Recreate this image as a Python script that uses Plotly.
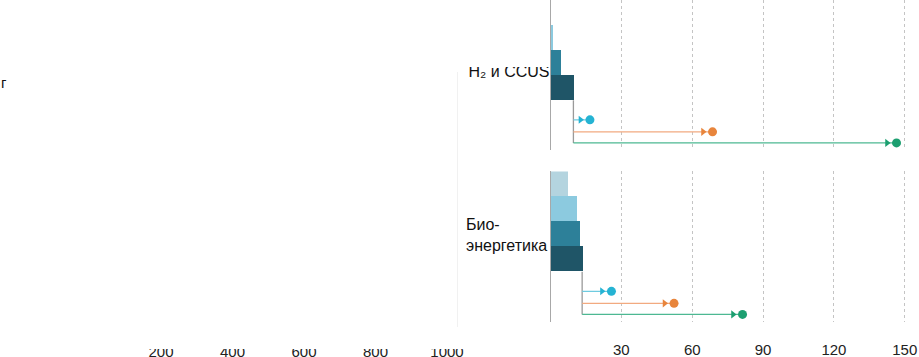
import plotly.graph_objects as go

# ---------------- data ----------------
rows = ["2019", "2020", "2021", "2022"]
h2_bars = [0.0, 1.0, 4.2, 9.7]
bio_bars = [7.0, 11.2, 12.2, 13.4]
scenarios = ["Сценарий A", "Сценарий B", "Сценарий C"]
h2_targets = [16.7, 68.6, 146.5]
bio_targets = [25.8, 52.3, 81.3]
left_ticks = [200, 400, 600, 800, 1000]
right_ticks = [30, 60, 90, 120, 150]
panel_labels = ["Н₂ и CCUS", "Био-<br>энергетика"]

# ---------------- style ----------------
W, H = 919, 357          # reference picture size (layout is expressed in it)
FIG_W, FIG_H = 926, 360  # figure size that renders at the reference scale
SC = FIG_W / W
FONT = "Liberation Sans, Arial, sans-serif"
bar_colors = ["#b4d4df", "#8ccadf", "#2d8099", "#1f5567"]
line_colors = ["#6fcbe0", "#f2aa80", "#4db892"]
mark_colors = ["#25b3d3", "#e8853c", "#1c9f70"]
row_y = [0.5, 1.5, 2.5, 3.5]
arrow_y = [4.78, 5.26, 5.7]

def px_x(p):
    return p / W

def px_y(p):
    return 1 - p / H

R_DOM = [px_x(550.5), px_x(914)]
R_RANGE = [0, 153.9]
px_per_unit = (R_DOM[1] - R_DOM[0]) * W / (R_RANGE[1] - R_RANGE[0])
tri_off = 9.5 / px_per_unit

fig = go.Figure()

def add_panel(xa, ya, bars, targets):
    fig.add_trace(go.Bar(
        x=bars, y=row_y, orientation="h", width=1,
        marker=dict(color=bar_colors, line=dict(width=0)),
        xaxis=xa, yaxis=ya, showlegend=False, hoverinfo="x"))
    base = bars[-1]
    fig.add_trace(go.Scatter(
        x=[base, base], y=[4, arrow_y[-1]], mode="lines",
        line=dict(color="#9a9a9a", width=1.3),
        xaxis=xa, yaxis=ya, showlegend=False, hoverinfo="skip"))
    for i, t in enumerate(targets):
        fig.add_trace(go.Scatter(
            x=[base, t], y=[arrow_y[i], arrow_y[i]], mode="lines",
            line=dict(color=line_colors[i], width=1.2),
            xaxis=xa, yaxis=ya, showlegend=False, name=scenarios[i]))
        fig.add_trace(go.Scatter(
            x=[t - tri_off], y=[arrow_y[i]], mode="markers",
            marker=dict(symbol="triangle-right", size=7, color=mark_colors[i]),
            xaxis=xa, yaxis=ya, showlegend=False, hoverinfo="skip"))
        fig.add_trace(go.Scatter(
            x=[t], y=[arrow_y[i]], mode="markers",
            marker=dict(symbol="circle", size=9, color=mark_colors[i]),
            xaxis=xa, yaxis=ya, showlegend=False, name=scenarios[i]))

add_panel("x2", "y2", h2_bars, h2_targets)
add_panel("x3", "y3", bio_bars, bio_targets)

# invisible trace for left panel
fig.add_trace(go.Scatter(x=[left_ticks[0]], y=[0], mode="markers",
                         marker=dict(opacity=0), xaxis="x", yaxis="y",
                         showlegend=False, hoverinfo="skip"))

grid = dict(showgrid=True, gridcolor="#c4c4c4", griddash="dot", gridwidth=1,
            zeroline=True, zerolinecolor="#a8a8a8", zerolinewidth=1,
            tickmode="array", tickvals=right_ticks, ticks="",
            range=R_RANGE, domain=R_DOM, fixedrange=True)

def cover(x0, x1, y0, y1):
    # white patch drawn above tick labels (reference shows half-hidden texts)
    return dict(text=" ", xref="paper", yref="paper",
                x=px_x((x0 + x1) / 2), y=px_y((y0 + y1) / 2),
                xanchor="center", yanchor="middle", showarrow=False,
                width=(x1 - x0) * SC, height=(y1 - y0) * SC,
                bgcolor="white", borderwidth=0, borderpad=0)

fig.update_layout(
    width=FIG_W, height=FIG_H,
    margin=dict(l=0, r=0, t=0, b=0),
    paper_bgcolor="white", plot_bgcolor="white",
    font=dict(family=FONT, size=15, color="#222"),
    bargap=0,
    xaxis=dict(domain=[px_x(89.5), px_x(457)], range=[0, 1028],
               tickmode="array", tickvals=left_ticks, ticks="",
               showgrid=False, zeroline=False, showline=False,
               anchor="y", ticklabelstandoff=10),
    yaxis=dict(domain=[px_y(330), px_y(72)], range=[0, 1], side="right",
               showgrid=False, zeroline=False, showticklabels=False,
               showline=True, linecolor="#f1f1f1", anchor="x"),
    xaxis2=dict(grid, anchor="y2", showticklabels=False),
    yaxis2=dict(domain=[px_y(150), px_y(0)], range=[6, 0], anchor="x2",
                showgrid=False, zeroline=False, ticks="",
                tickmode="array", tickvals=[2.86], ticktext=[panel_labels[0]],
                tickfont=dict(size=16, color="#111"),
                ticklabelstandoff=0),
    xaxis3=dict(grid, anchor="y3", ticklabelstandoff=17),
    yaxis3=dict(domain=[px_y(321), px_y(171)], range=[6, 0], anchor="x3",
                showgrid=False, zeroline=False, showticklabels=False),
    annotations=[
        dict(text=panel_labels[1], xref="paper", yref="paper",
             x=px_x(464), y=px_y(234), xanchor="left", yanchor="middle",
             align="left", showarrow=False, font=dict(size=16, color="#111")),
        dict(text="г", xref="paper", yref="paper",
             x=px_x(-1), y=px_y(82), xanchor="left", yanchor="middle",
             showarrow=False, font=dict(size=15, color="#111")),
        cover(110, 470, 326, 348),
        cover(440, 548, 40, 66.5),
    ],
)

fig.write_html(
    "out.html",
    config=dict(displayModeBar=False),
    post_script="document.body.style.margin='0';document.body.style.overflow='hidden';",
)
